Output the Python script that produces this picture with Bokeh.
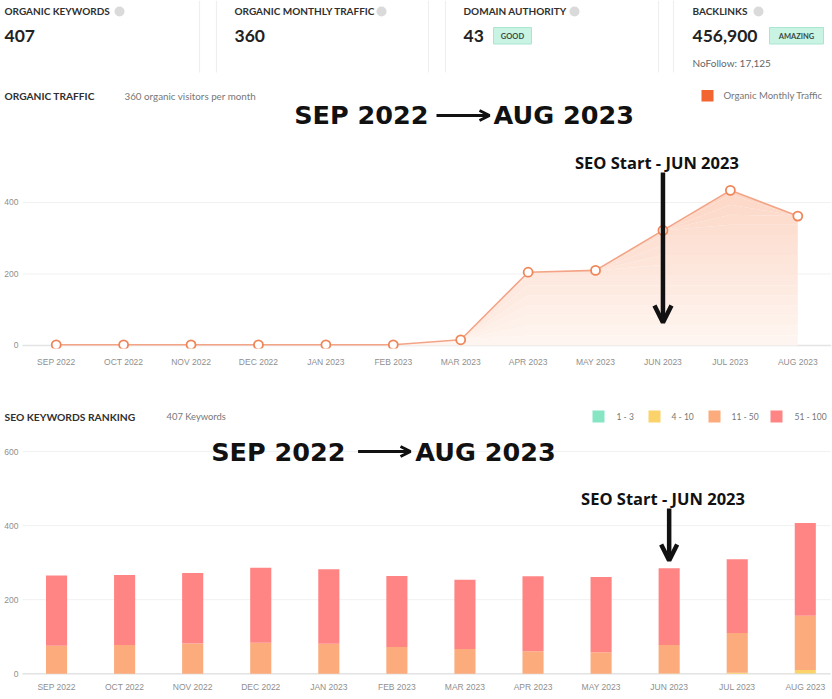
import numpy as np
from bokeh.plotting import figure
from bokeh.layouts import column
from bokeh.models import Range1d, FixedTicker, Arrow, OpenHead, ColumnDataSource, Label
from bokeh.core.properties import value
from bokeh.embed import file_html
from bokeh.resources import INLINE

# ---------------- data ----------------
months = ["SEP 2022", "OCT 2022", "NOV 2022", "DEC 2022", "JAN 2023", "FEB 2023",
          "MAR 2023", "APR 2023", "MAY 2023", "JUN 2023", "JUL 2023", "AUG 2023"]
traffic = [2, 2, 2, 2, 2, 2, 16, 205, 210, 322, 434, 362]
rank_1_3 = [0, 0, 0, 0, 0, 0, 0, 0, 0, 0, 0, 1]
rank_4_10 = [0, 0, 0, 0, 0, 0, 0, 0, 0, 1, 3, 9]
rank_11_50 = [76, 78, 82, 84, 81, 72, 67, 61, 58, 77, 107, 147]
rank_51_100 = [189, 189, 190, 202, 201, 192, 187, 202, 203, 207, 199, 250]
bucket_labels = ["1 - 3", "4 - 10", "11 - 50", "51 - 100"]
bucket_colors = ["#86e5c3", "#fcd36a", "#fbab7c", "#ff8585"]
traffic_ticks = [0, 200, 400]
rank_ticks = [0, 200, 400, 600]
card_titles = ["ORGANIC KEYWORDS", "ORGANIC MONTHLY TRAFFIC", "DOMAIN AUTHORITY", "BACKLINKS"]
card_values = ["407", "360", "43", "456,900"]
badges = ["GOOD", "AMAZING"]
seo_start_index = 9

W = 832
RIGHT = 1
LBL = "Lato"
TICK = "Liberation Sans"


def header_fig(h, ry0):
    p = figure(width=W, height=h, x_range=Range1d(0, W - RIGHT), y_range=Range1d(ry0 + h, ry0),
               output_backend="svg", toolbar_location=None, x_axis_location=None,
               y_axis_location=None, min_border_left=0, min_border_right=RIGHT,
               min_border_top=0, min_border_bottom=0)
    p.outline_line_color = None
    p.grid.visible = False
    return p


def lab(p, x, y, t, size, color="#333333", bold=False, align="left", font=LBL):
    p.add_layout(Label(x=x, y=y, text=t, text_font=font, text_font_size=size,
                       text_font_style="bold" if bold else "normal", text_color=color,
                       text_align=align, text_baseline="middle"))


# ---------------- header + chart 1 title row ----------------
h1 = header_fig(132, 0)
for bx in [199, 216, 428, 445, 658, 673]:
    h1.segment(x0=[bx], y0=[0], x1=[bx], y1=[72], line_color="#efefef", line_width=1.2)
card_x = [4, 234, 463, 692]
icon_x = [119, 381, 574, 758]
for cx, ix, t, v in zip(card_x, icon_x, card_titles, card_values):
    lab(h1, cx, 10, t, "10px", "#2f2f2f", True)
    h1.scatter(x=[ix], y=[11], size=10, fill_color="#dadada", line_color=None)
    lab(h1, cx, 35.5, v, "17.5px", "#222222", True)
for (bl, br), b in zip([(493, 531), (769, 823)], badges):
    h1.quad(left=[bl], right=[br], top=[27], bottom=[43.5], fill_color="#c9f4e3",
            line_color="#a9e6cf", line_width=1)
    lab(h1, (bl + br) / 2, 35.5, b, "7.5px", "#3a4a44", True, "center")
lab(h1, 692, 62, "NoFollow: 17,125", "10px", "#666666")

lab(h1, 4, 95, "ORGANIC TRAFFIC", "10.2px", "#2f2f2f", True)
lab(h1, 124, 95, "360 organic visitors per month", "9.8px", "#777777")
h1.quad(left=[701], right=[713], top=[89.5], bottom=[101], fill_color="#f26430", line_color=None)
lab(h1, 723, 95, "Organic Monthly Traffic", "9.6px", "#777777")

lab(h1, 428, 114.5, "SEP 2022", "25.5px", "#111111", True, "right", "DejaVu Sans")
h1.add_layout(Arrow(end=OpenHead(size=10, line_width=3, line_color="#111111"),
                    x_start=436, y_start=115, x_end=489, y_end=115,
                    line_width=3, line_color="#111111"))
lab(h1, 493, 114.5, "AUG 2023", "25.5px", "#111111", True, "left", "DejaVu Sans")


# ---------------- chart styling ----------------
def style_chart(p, ticks, standoff_x, x0, x1):
    p.outline_line_color = None
    p.grid.visible = False
    p.yaxis.ticker = FixedTicker(ticks=ticks)
    p.xaxis.ticker = FixedTicker(ticks=list(range(len(months))))
    p.xaxis.major_label_overrides = {i: m for i, m in enumerate(months)}
    for ax in [p.xaxis[0], p.yaxis[0]]:
        ax.axis_line_color = None
        ax.major_tick_line_color = None
        ax.minor_tick_line_color = None
        ax.major_tick_out = 0
        ax.major_tick_in = 0
        ax.major_label_text_font = TICK
        ax.major_label_text_font_size = "8.5px"
        ax.major_label_text_color = "#8f8f8f"
    # labels sit in the white strip left of the grid lines
    p.yaxis.major_label_standoff = -18
    p.xaxis.major_label_standoff = standoff_x
    # horizontal grid lines at the tick values, starting where the data area starts
    p.segment(x0=[x0] * len(ticks), y0=ticks, x1=[x1] * len(ticks), y1=ticks,
              line_color="#f1f1f1", line_width=1)
    p.segment(x0=[x0], y0=[0], x1=[x1], y1=[0], line_color="#e4e4e4", line_width=1.5)


x = np.arange(len(months))

# ---------------- chart 1: organic traffic ----------------
c1 = figure(width=W, height=240, x_range=Range1d(-0.5 - 22 / 67.4, 11.5),
            y_range=Range1d(-8.4, 595.8), output_backend="svg", toolbar_location=None,
            min_border_left=0, min_border_right=RIGHT, min_border_top=0, min_border_bottom=24)
style_chart(c1, traffic_ticks, 8, -0.5, 11.5)
tv = np.array(traffic, dtype=float)
nb = 16
bands = np.linspace(0, 450, nb + 1)
c_lo = np.array([255, 246, 242])
c_hi = np.array([252, 214, 197])
for i in range(nb):
    f = (i + 0.5) / nb
    col = "#%02x%02x%02x" % tuple(int(v) for v in (c_lo + (c_hi - c_lo) * f))
    c1.varea(x=x, y1=np.minimum(tv, bands[i]), y2=np.minimum(tv, bands[i + 1]), fill_color=col)
c1.line(x, traffic, line_color="#f4a486", line_width=1.6)
c1.scatter(x, traffic, size=9, fill_color="white", line_color="#ef8558", line_width=1.8)
c1.text(x=[seo_start_index - 0.09], y=[512], text=["SEO Start - JUN 2023"],
        text_font=value("Open Sans"), text_font_size="16.5px", text_font_style="bold",
        text_color="#111111", text_align="center", text_baseline="middle")
c1.add_layout(Arrow(end=OpenHead(size=17, line_width=4.5, line_color="#111111"),
                    x_start=seo_start_index, y_start=484, x_end=seo_start_index, y_end=64,
                    line_width=4.5, line_color="#111111"))

# ---------------- chart 2 title row ----------------
h2 = header_fig(65, 372)
lab(h2, 4, 416, "SEO KEYWORDS RANKING", "10.3px", "#2f2f2f", True)
lab(h2, 166, 416, "407 Keywords", "9.4px", "#777777")
leg_sq = [592, 648, 708, 770]
leg_tx = [616, 671, 731, 794]
for sq, tx, lb, col in zip(leg_sq, leg_tx, bucket_labels, bucket_colors):
    h2.quad(left=[sq], right=[sq + 12], top=[410], bottom=[422], fill_color=col, line_color=None)
    lab(h2, tx, 416, lb, "8.5px", "#777777")

# ---------------- chart 2: keyword ranking ----------------
c2 = figure(width=W, height=262, x_range=Range1d(-0.5 - 22 / 68.07, 11.385),
            y_range=Range1d(-7.3, 637.8), output_backend="svg", toolbar_location=None,
            min_border_left=0, min_border_right=RIGHT, min_border_top=0, min_border_bottom=23)
style_chart(c2, rank_ticks, 5, -0.5, 11.37)
src = ColumnDataSource(dict(x=x, r1=rank_1_3, r2=rank_4_10, r3=rank_11_50, r4=rank_51_100))
c2.vbar_stack(["r1", "r2", "r3", "r4"], x="x", width=0.31, fill_color=bucket_colors,
              line_color=None, source=src)
c2.text(x=[4.246], y=[600], text=["SEP 2022"], text_font=value("DejaVu Sans"),
        text_font_size="25.5px", text_font_style="bold", text_color="#111111",
        text_align="right", text_baseline="middle")
c2.add_layout(Arrow(end=OpenHead(size=10, line_width=3, line_color="#111111"),
                    x_start=4.43, y_start=600, x_end=5.20, y_end=600,
                    line_width=3, line_color="#111111"))
c2.text(x=[5.27], y=[600], text=["AUG 2023"], text_font=value("DejaVu Sans"),
        text_font_size="25.5px", text_font_style="bold", text_color="#111111",
        text_align="left", text_baseline="middle")
c2.text(x=[seo_start_index - 0.09], y=[473], text=["SEO Start - JUN 2023"],
        text_font=value("Open Sans"), text_font_size="16.5px", text_font_style="bold",
        text_color="#111111", text_align="center", text_baseline="middle")
c2.add_layout(Arrow(end=OpenHead(size=16, line_width=4.5, line_color="#111111"),
                    x_start=seo_start_index, y_start=446, x_end=seo_start_index, y_end=306,
                    line_width=4.5, line_color="#111111"))

p = column(h1, c1, h2, c2, spacing=0)
open("out.html", "w").write(file_html(p, INLINE))
